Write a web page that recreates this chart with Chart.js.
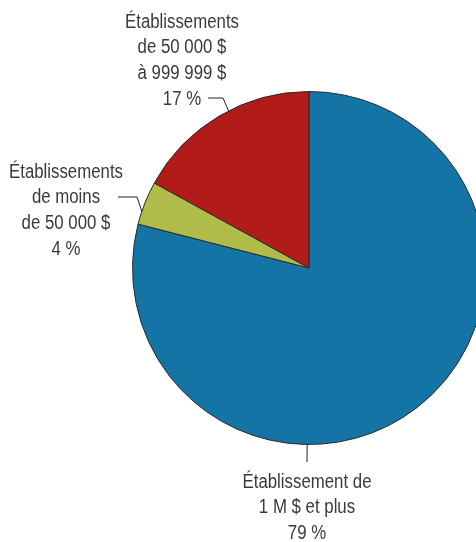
<!DOCTYPE html>
<html lang="fr">
<head>
<meta charset="UTF-8">
<title>Répartition des établissements</title>
<script src="https://cdn.jsdelivr.net/npm/chart.js"></script>
<style>
    html,body{margin:0;padding:0;background:#fff;overflow:hidden}
    .wrap{position:absolute;left:0;top:0;width:618px;height:542px}
</style>
</head>
<body>
<div class="wrap"><canvas id="pie"></canvas></div>
<script>
// data
const categories=['Établissement de 1 M $ et plus','Établissements de moins de 50 000 $','Établissements de 50 000 $ à 999 999 $'];
const shares=[79,4,17];
const sliceColors=['#1474a6','#afbc4a','#b21c18'];
const labelLines=[
    ['Établissement de','1 M $ et plus','79 %'],
    ['Établissements','de moins','de 50 000 $','4 %'],
    ['Établissements','de 50 000 $','à 999 999 $','17 %']
];

// where each callout sits (angle on the rim, clockwise from top, then elbow + text block)
const callouts=[
    {angle:180.6,elbow:null,end:[307,462],tx:307,ty:482},
    {angle:288.7,elbow:[137,197],end:[118,197],tx:66,ty:172},
    {angle:332.9,elbow:[223,98],end:[208,98],tx:182,ty:22}
];

// no condensed face installed, so squeeze a regular one horizontally
const FONT='20px "Liberation Sans",Arial,sans-serif';
const LINE_H=25.8;
const REF_WORD='Établissements', REF_WIDTH=114;

const calloutPlugin={
    id:'callouts',
    afterDraw(chart){
        const ctx=chart.ctx;
        const arcs=chart.getDatasetMeta(0).data;
        ctx.save();
        ctx.strokeStyle='#222';
        ctx.lineWidth=1;
        callouts.forEach((c,i)=>{
            const a=arcs[i];
            const rad=c.angle*Math.PI/180;
            const px=a.x+a.outerRadius*Math.sin(rad);
            const py=a.y-a.outerRadius*Math.cos(rad);
            ctx.beginPath();
            ctx.moveTo(px,py);
            if(c.elbow) ctx.lineTo(c.elbow[0],c.elbow[1]);
            ctx.lineTo(c.end[0],c.end[1]);
            ctx.stroke();
        });
        ctx.font=FONT;
        const sx=REF_WIDTH/ctx.measureText(REF_WORD).width;
        ctx.fillStyle='#3a3a3a';
        ctx.textAlign='center';
        ctx.textBaseline='middle';
        callouts.forEach((c,i)=>{
            labelLines[i].forEach((t,k)=>{
                ctx.save();
                ctx.translate(c.tx,c.ty+k*LINE_H);
                ctx.scale(sx,1);
                ctx.fillText(t,0,0);
                ctx.restore();
            });
        });
        ctx.restore();
    }
};

new Chart(document.getElementById('pie').getContext('2d'),{
    type:'pie',
    data:{labels:categories,datasets:[{data:shares,backgroundColor:sliceColors,borderColor:'#2b2b2b',borderWidth:1}]},
    options:{
        responsive:true,maintainAspectRatio:false,animation:false,
        layout:{padding:{left:132,right:132,top:91,bottom:97}},
        plugins:{legend:{display:false},tooltip:{enabled:false}}
    },
    plugins:[calloutPlugin]
});
</script>
</body>
</html>
